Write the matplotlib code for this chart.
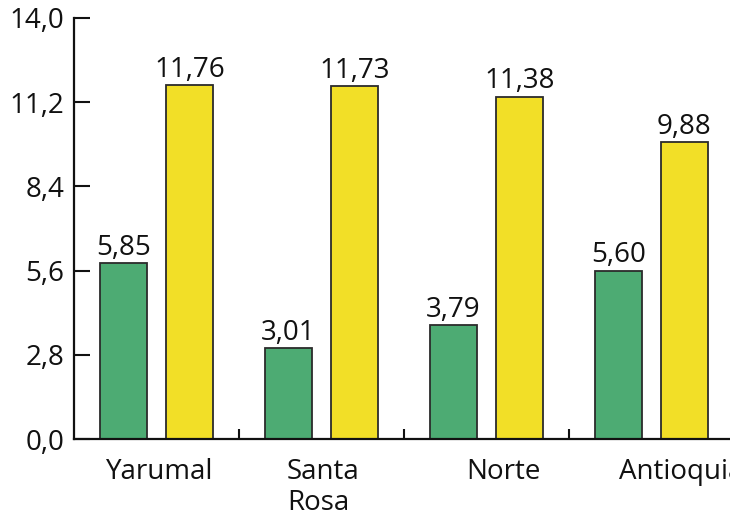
"""Grouped bar chart: green vs yellow per region."""

import matplotlib.pyplot as plt
import numpy as np

plt.rcParams["font.family"] = ["Open Sans", "DejaVu Sans"]

regions = ["Yarumal", "Santa\nRosa", "Norte", "Antioquia"]
label_pos = [0.52, 1.51, 2.60, 3.68]
green_vals = [5.85, 3.01, 3.79, 5.60]
yellow_vals = [11.76, 11.73, 11.38, 9.88]
yticks = [0.0, 2.8, 5.6, 8.4, 11.2, 14.0]

GREEN = "#4dab73"
YELLOW = "#f2df27"
EDGE = "#2b2b2b"
FS = 20


def fmt(v, nd):
    return f"{v:.{nd}f}".replace(".", ",")


fig = plt.figure(figsize=(7.3, 5.2), dpi=100)
ax = fig.add_axes([74 / 730, 81 / 520, 656 / 730, 421 / 520])

x = np.arange(len(regions))
width = 0.285
g = ax.bar(x + 0.3, green_vals, width, color=GREEN, edgecolor=EDGE, linewidth=1.3)
y = ax.bar(x + 0.7, yellow_vals, width, color=YELLOW, edgecolor=EDGE, linewidth=1.3)

for bars, vals in ((g, green_vals), (y, yellow_vals)):
    for b, v in zip(bars, vals):
        ax.annotate(fmt(v, 2), (b.get_x() + b.get_width() / 2, v),
                    xytext=(0, 1), textcoords="offset points",
                    ha="center", va="bottom", fontsize=FS, color="#111111")

ax.set_xlim(0, 656 / 165)
ax.set_ylim(0, 14)
ax.set_yticks(yticks)
ax.set_yticklabels([fmt(t, 1) for t in yticks])
ax.set_xticks(label_pos)
ax.set_xticklabels(regions, linespacing=1.1)
for lab in ax.get_xticklabels():
    lab.set_multialignment("left")
ax.set_xticks([1, 2, 3], minor=True)

ax.tick_params(axis="y", direction="in", length=11.5, width=1.5, pad=7,
               labelsize=FS, color="#111111", labelcolor="#111111")
ax.tick_params(axis="x", which="major", length=0, pad=14, labelsize=FS,
               labelcolor="#111111")
ax.tick_params(axis="x", which="minor", direction="in", length=7, width=1.5,
               color="#111111")

for side in ("top", "right"):
    ax.spines[side].set_visible(False)
for side in ("left", "bottom"):
    ax.spines[side].set_linewidth(1.6)
    ax.spines[side].set_color("#111111")

fig.savefig("out.png", dpi=100)
